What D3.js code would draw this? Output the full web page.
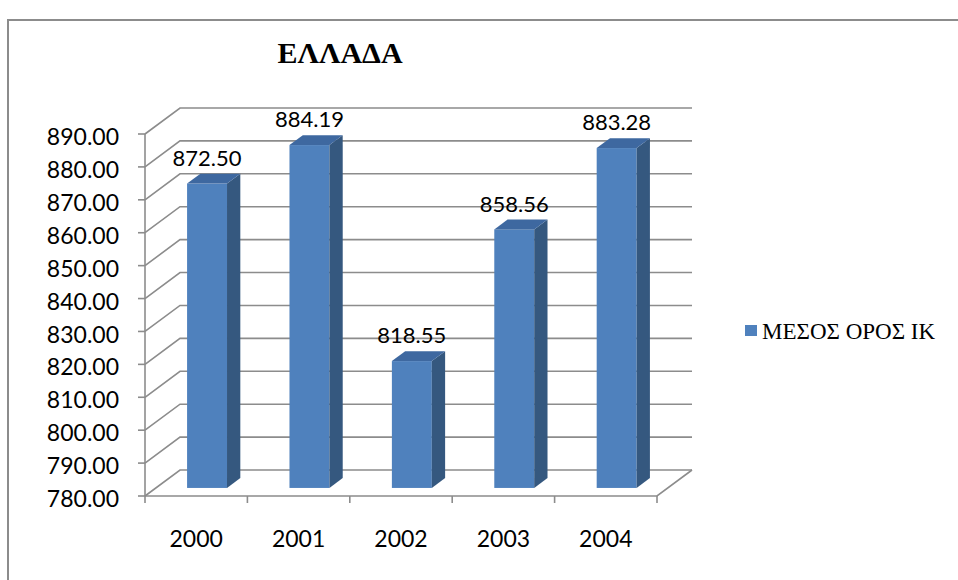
<!DOCTYPE html>
<html>
<head>
<meta charset="utf-8">
<script src="https://cdn.jsdelivr.net/npm/d3@7/dist/d3.min.js"></script>
<style>
  html, body { margin: 0; padding: 0; background: #fff; }
  svg { display: block; }
</style>
</head>
<body>
<svg id="chart" width="958" height="580"></svg>
<script>
// Chart data
const years = ["2000", "2001", "2002", "2003", "2004"];
const values = [872.50, 884.19, 818.55, 858.56, 883.28];
const yTicks = [780, 790, 800, 810, 820, 830, 840, 850, 860, 870, 880, 890];
const title = "ΕΛΛΑΔΑ";
const seriesName = "ΜΕΣΟΣ ΟΡΟΣ ΙΚ";

const svg = d3.select("#chart");

// Front plane of the 3D plot box and its depth offset
const plotLeft = 145, plotRight = 657, plotBase = 496, plotTop = 134;
const depthX = 35, depthY = -26;
const barNear = 0.31, barFar = 0.69; // bar position inside the depth

const y = d3.scaleLinear().domain([780, 890]).range([plotBase, plotTop]);
const x = d3.scaleBand().domain(years).range([plotLeft, plotRight])
  .paddingInner(0.61).paddingOuter(0.305);
const step = x.step();

const gridColor = "#8c8c8c";
const sansFont = "Lato, 'Liberation Sans', Arial, sans-serif";
const serifFont = "'Liberation Serif', 'Times New Roman', serif";
const pts = a => a.map(p => p.join(",")).join(" ");

// Outer chart frame
svg.append("rect")
  .attr("x", 8).attr("y", 20).attr("width", 1000).attr("height", 600)
  .attr("fill", "none").attr("stroke", "#8c8c8c").attr("stroke-width", 2);

// Title
svg.append("text")
  .attr("x", 340).attr("y", 63)
  .attr("text-anchor", "middle")
  .attr("font-family", serifFont)
  .attr("font-weight", "bold").attr("font-size", 30)
  .text(title);

const grid = svg.append("g")
  .attr("fill", "none").attr("stroke", gridColor).attr("stroke-width", 1.6);

// Side wall diagonals + back wall gridlines
yTicks.forEach(t => {
  const yy = y(t);
  grid.append("polyline")
    .attr("points", pts([[plotLeft, yy], [plotLeft + depthX, yy + depthY], [plotRight + depthX, yy + depthY]]));
});

// Floor front edge and right edge
grid.append("polyline")
  .attr("points", pts([[plotLeft, plotBase], [plotRight, plotBase], [plotRight + depthX, plotBase + depthY]]));

// Value axis line and ticks
grid.append("line").attr("x1", plotLeft).attr("x2", plotLeft).attr("y1", y(890)).attr("y2", plotBase);
yTicks.forEach(t => {
  grid.append("line").attr("x1", plotLeft - 7).attr("x2", plotLeft).attr("y1", y(t)).attr("y2", y(t));
});
// Category ticks
d3.range(years.length + 1).forEach(i => {
  const xx = plotLeft + i * step;
  grid.append("line").attr("x1", xx).attr("x2", xx).attr("y1", plotBase).attr("y2", plotBase + 7);
});

// Value axis labels
svg.append("g")
  .attr("font-family", sansFont)
  .attr("font-size", 23).attr("text-anchor", "end").attr("fill", "#000")
  .selectAll("text").data(yTicks).join("text")
  .attr("x", 119).attr("y", d => y(d) + 3).attr("dy", "0.35em")
  .text(d => d3.format(".2f")(d));

// Category labels
svg.append("g")
  .attr("font-family", sansFont)
  .attr("font-size", 23).attr("text-anchor", "middle").attr("fill", "#000")
  .selectAll("text").data(years).join("text")
  .attr("x", d => x(d) + x.bandwidth() / 2).attr("y", 547)
  .text(d => d);

// 3D bars
const nx = depthX * barNear, ny = depthY * barNear;
const dx = depthX * (barFar - barNear), dy = depthY * (barFar - barNear);
const bars = svg.append("g");
years.forEach((yr, i) => {
  const v = values[i];
  const x0 = x(yr) + nx, x1 = x0 + x.bandwidth();
  const yt = y(v) + ny, yb = y(780) + ny;
  bars.append("rect")
    .attr("x", x0).attr("y", yt).attr("width", x1 - x0).attr("height", yb - yt)
    .attr("fill", "#4f81bd");
  bars.append("polygon")
    .attr("points", pts([[x1, yt], [x1 + dx, yt + dy], [x1 + dx, yb + dy], [x1, yb]]))
    .attr("fill", "#35587f");
  bars.append("polygon")
    .attr("points", pts([[x0, yt], [x1, yt], [x1 + dx, yt + dy], [x0 + dx, yt + dy]]))
    .attr("fill", "#3e68a0");
  bars.append("text")
    .attr("x", x0 + x.bandwidth() / 2).attr("y", yt + dy - 8)
    .attr("text-anchor", "middle")
    .attr("font-family", sansFont)
    .attr("font-size", 22).attr("fill", "#000")
    .text(d3.format(".2f")(v));
});

// Legend
const legend = svg.append("g");
legend.append("rect")
  .attr("x", 745).attr("y", 325).attr("width", 12).attr("height", 11)
  .attr("fill", "#4f81bd");
legend.append("text")
  .attr("x", 762).attr("y", 339)
  .attr("font-family", serifFont)
  .attr("font-size", 23).attr("fill", "#000")
  .text(seriesName);
</script>
</body>
</html>
